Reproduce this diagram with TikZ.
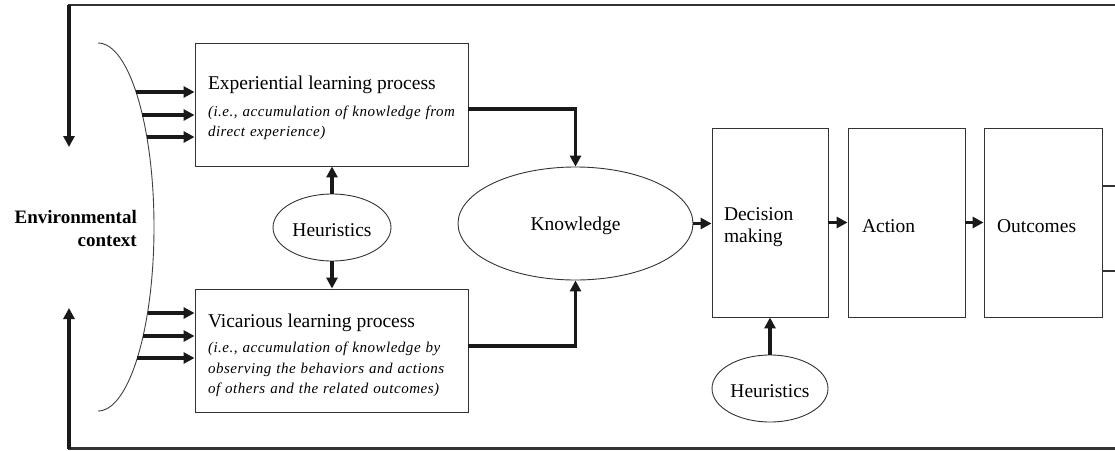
\documentclass[tikz,border=0pt]{standalone}
\usepackage{fontspec}
\setmainfont{Liberation Serif}
\newfontfamily\notefont{Liberation Serif}[LetterSpace=3.5]
\usetikzlibrary{arrows.meta,shapes.geometric}
% lower a label without changing the size the node sees
\newcommand{\lowlabel}[2][3pt]{\raisebox{-#1}[\height][\depth]{#2}}
% strut that makes a first line taller, pushing a text block down
\newcommand{\topstrut}[1]{\rule{0pt}{#1}}

\begin{document}
\begin{tikzpicture}[x=1pt,y=-1pt,
  box/.style={draw=black!80, line width=0.9pt, inner sep=0pt, align=left},
  procbox/.style={box, minimum width=273pt, minimum height=123pt, text width=247pt,
    font=\notefont\itshape\fontsize{15}{20}\selectfont},
  oval/.style={ellipse, draw=black!80, line width=0.9pt, inner sep=0pt,
    font=\fontsize{19.5}{23}\selectfont},
  flow/.style={line width=3.2pt, draw=black!90, -{Triangle[length=11pt,width=11pt]}},
  loopline/.style={line width=2.2pt, draw=black!80},
  curve/.style={line width=0.9pt, draw=black!75},
  big/.style={font=\fontsize{19.5}{22}\selectfont}
]
\useasboundingbox (0,0) rectangle (1115,450);
\clip (0,0) rectangle (1115,450);

% learning process boxes
\node[procbox] (exp) at (331.5,104.5)
  {{\rmfamily\upshape\fontsize{19.5}{22}\selectfont\topstrut{21pt}Experiential learning process}\\[7pt]
   (i.e., accumulation of knowledge from\\
   direct experience)};
\node[procbox, font=\notefont\itshape\fontsize{15}{20.5}\selectfont] (vic) at (331.5,350.5)
  {{\rmfamily\upshape\fontsize{19.5}{22}\selectfont\topstrut{23.5pt}Vicarious learning process}\\[5pt]
   (i.e., accumulation of knowledge by\\
   observing the behaviors and actions\\
   of others and the related outcomes)};

% ovals
\node[oval, minimum width=118pt, minimum height=67pt] (h1) at (332,227.5) {\lowlabel{Heuristics}};
\node[oval, minimum width=235pt, minimum height=113pt] (know) at (575.5,223.5) {\lowlabel[2.5pt]{Knowledge}};
\node[oval, minimum width=116pt, minimum height=67pt] (h2) at (770,388.5) {\lowlabel{Heuristics}};

% decision chain
\node[box, big, minimum width=116pt, minimum height=189pt, text width=92pt]
  (dec) at (770,222.5) {\topstrut{22.5pt}Decision\\making};
\node[box, big, minimum width=117pt, minimum height=189pt, text width=89pt]
  (act) at (906.5,222.5) {\topstrut{19.5pt}Action};
\node[box, big, minimum width=118pt, minimum height=189pt, text width=92pt]
  (out) at (1043,222.5) {\topstrut{19.5pt}Outcomes};

% environmental context
\node[anchor=east, align=right, inner sep=0pt,
  font=\fontsize{19}{23}\selectfont\bfseries] (env) at (137,228.5)
  {Environmental\\context};
\draw[curve] (98,43) arc[start angle=-90, end angle=90, x radius=56, y radius=184];

\coordinate (e1) at (136,92);
\coordinate (e2) at (142,115);
\coordinate (e3) at (147,137);
\coordinate (v1) at (147.5,313);
\coordinate (v2) at (143,336);
\coordinate (v3) at (137,358);
\foreach \c in {e1,e2,e3} \draw[flow] (\c) -- (\c -| exp.west);
\foreach \c in {v1,v2,v3} \draw[flow] (\c) -- (\c -| vic.west);

% main connectors
\draw[flow] (h1.north) -- (h1.north |- exp.south);
\draw[flow] (h1.south) -- (h1.south |- vic.north);
\draw[flow] ([yshift=-4.5pt]exp.east) -| (know.north);
\draw[flow] ([yshift=4.5pt]vic.east) -| (know.south);
\draw[flow] (know.east) -- (know.east -| dec.west);
\draw[flow] (dec.east) -- (act.west);
\draw[flow] (act.east) -- (out.west);
\draw[flow] (h2.north) -- (h2.north |- dec.south);

% feedback loop back to the environment
\coordinate (oTop) at ([yshift=36.5pt]out.east);
\coordinate (oBot) at ([yshift=-48.5pt]out.east);
\coordinate (loopTR) at (1135,5);
\coordinate (loopBR) at (1135,448.5);
\coordinate (loopTL) at (69,5);
\coordinate (loopBL) at (69,448.5);
\coordinate (fbTop) at (69,147);
\coordinate (fbBot) at (69,308);
\draw[loopline] (oTop) -| (loopTR) -- ([xshift=-1pt]loopTL);
\draw[loopline] (oBot) -| (loopBR) -- ([xshift=-1pt]loopBL);
\draw[flow] (loopTL) -- (fbTop);
\draw[flow] (loopBL) -- (fbBot);
\end{tikzpicture}
\end{document}
